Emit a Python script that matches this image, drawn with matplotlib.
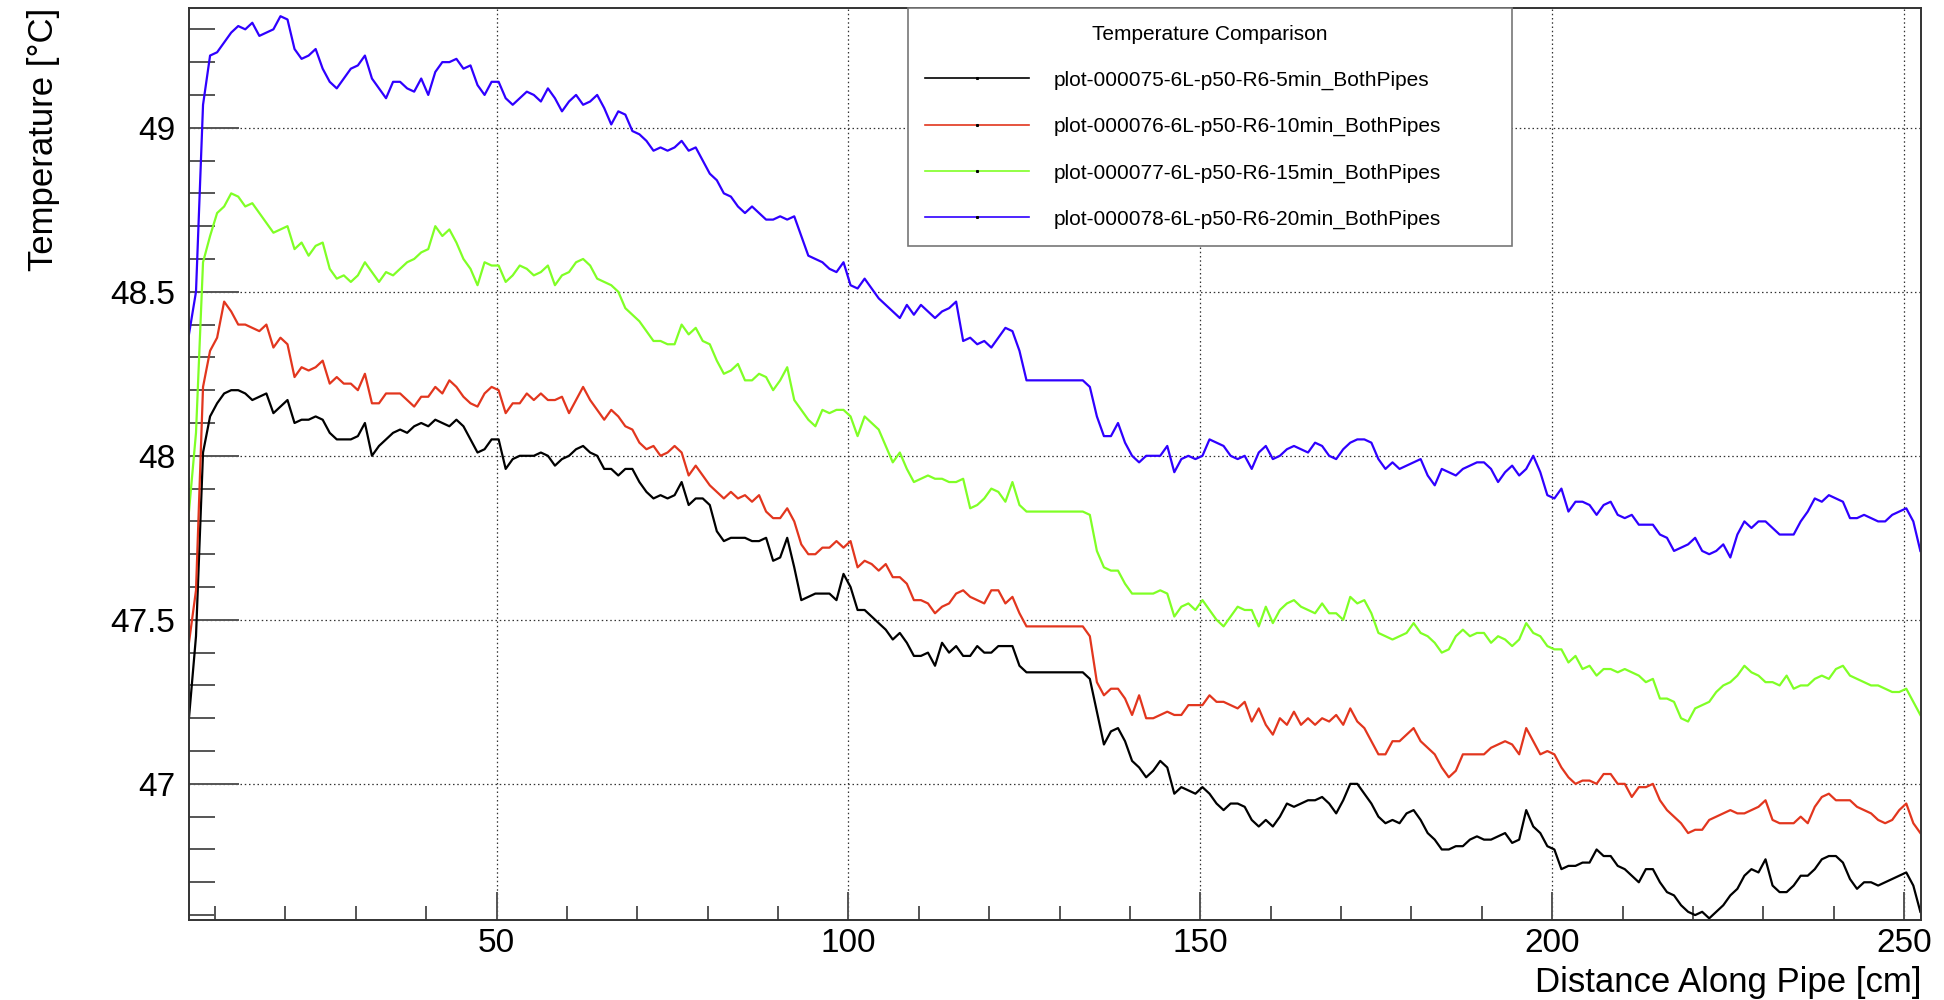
import numpy as np
import matplotlib
matplotlib.use('Agg')
import matplotlib.pyplot as plt
from matplotlib.ticker import MultipleLocator, FuncFormatter
from matplotlib.lines import Line2D

plt.rcParams['font.family'] = ['Liberation Sans', 'DejaVu Sans']

# distance grid: first sample at 6.3 cm, one sample per cm
x_start = 6.3
x_step = 1.0

t_5min = [
    47.20, 47.45, 48.01, 48.12, 48.16, 48.19, 48.20, 48.20, 48.19, 48.17, 48.18, 48.19, 48.13, 48.15, 48.17, 48.10,
    48.11, 48.11, 48.12, 48.11, 48.07, 48.05, 48.05, 48.05, 48.06, 48.10, 48.00, 48.03, 48.05, 48.07, 48.08, 48.07,
    48.09, 48.10, 48.09, 48.11, 48.10,
    48.09, 48.11, 48.09, 48.05, 48.01, 48.02, 48.05, 48.05, 47.96, 47.99, 48.00, 48.00, 48.00, 48.01, 48.00, 47.97,
    47.99, 48.00, 48.02, 48.03, 48.01, 48.00, 47.96, 47.96, 47.94, 47.96, 47.96, 47.92, 47.89, 47.87, 47.88, 47.87,
    47.88, 47.92, 47.85,
    47.87, 47.87, 47.85, 47.77, 47.74, 47.75, 47.75, 47.75, 47.74, 47.74, 47.75, 47.68, 47.69, 47.75, 47.66, 47.56,
    47.57, 47.58, 47.58, 47.58, 47.56, 47.64, 47.60, 47.53, 47.53, 47.51, 47.49, 47.47, 47.44, 47.46, 47.43, 47.39,
    47.39, 47.40, 47.36, 47.43,
    47.40, 47.42, 47.39, 47.39, 47.42, 47.40, 47.40, 47.42, 47.42, 47.42, 47.36,
    47.34, 47.34, 47.34, 47.34, 47.34, 47.34, 47.34, 47.34, 47.34,
    47.32, 47.22, 47.12, 47.16, 47.17, 47.13, 47.07, 47.05, 47.02, 47.04, 47.07, 47.05, 46.97, 46.99, 46.98,
    46.97, 46.99, 46.97, 46.94, 46.92, 46.94, 46.94, 46.93, 46.89, 46.87, 46.89, 46.87, 46.90, 46.94, 46.93, 46.94,
    46.95, 46.95, 46.96, 46.94, 46.91, 46.95, 47.00, 47.00, 46.97, 46.94, 46.90, 46.88, 46.89, 46.88, 46.91, 46.92,
    46.89, 46.85, 46.83, 46.80,
    46.80, 46.81, 46.81, 46.83, 46.84, 46.83, 46.83, 46.84, 46.85, 46.82, 46.83, 46.92, 46.87, 46.85, 46.81, 46.80,
    46.74, 46.75, 46.75, 46.76, 46.76, 46.80, 46.78, 46.78, 46.75, 46.74, 46.72, 46.70, 46.74, 46.74, 46.70, 46.67,
    46.66, 46.63, 46.61,
    46.60, 46.61, 46.59, 46.61, 46.63, 46.66, 46.68, 46.72, 46.74, 46.73, 46.77, 46.69, 46.67, 46.67, 46.69, 46.72,
    46.72, 46.74, 46.77, 46.78, 46.78, 46.76, 46.71, 46.68, 46.70, 46.70, 46.69, 46.70, 46.71, 46.72, 46.73, 46.69,
    46.61,
]

t_10min = [
    47.43, 47.59, 48.21, 48.32, 48.36, 48.47, 48.44, 48.40, 48.40, 48.39, 48.38, 48.40, 48.33, 48.36, 48.34, 48.24,
    48.27, 48.26, 48.27, 48.29, 48.22, 48.24, 48.22, 48.22, 48.20, 48.25, 48.16, 48.16, 48.19, 48.19, 48.19, 48.17,
    48.15, 48.18, 48.18, 48.21, 48.19,
    48.23, 48.21, 48.18, 48.16, 48.15, 48.19, 48.21, 48.20, 48.13, 48.16, 48.16, 48.19, 48.17, 48.19, 48.17, 48.17,
    48.18, 48.13, 48.17, 48.21, 48.17, 48.14, 48.11, 48.14, 48.12, 48.09, 48.08, 48.04, 48.02, 48.03, 48.00, 48.01,
    48.03, 48.01, 47.94,
    47.97, 47.94, 47.91, 47.89, 47.87, 47.89, 47.87, 47.88, 47.86, 47.88, 47.83, 47.81, 47.81, 47.84, 47.80, 47.73,
    47.70, 47.70, 47.72, 47.72, 47.74, 47.72, 47.74, 47.66, 47.68, 47.67, 47.65, 47.67, 47.63, 47.63, 47.61, 47.56,
    47.56, 47.55, 47.52, 47.54,
    47.55, 47.58, 47.59, 47.57, 47.56, 47.55, 47.59, 47.59, 47.55, 47.57, 47.52,
    47.48, 47.48, 47.48, 47.48, 47.48, 47.48, 47.48, 47.48, 47.48,
    47.45, 47.31, 47.27, 47.29, 47.29, 47.26, 47.21, 47.27, 47.20, 47.20, 47.21, 47.22, 47.21, 47.21, 47.24,
    47.24, 47.24, 47.27, 47.25, 47.25, 47.24, 47.23, 47.25, 47.19, 47.23, 47.18, 47.15, 47.20, 47.18, 47.22, 47.18,
    47.20, 47.18, 47.20, 47.19, 47.21, 47.18, 47.23, 47.19, 47.17, 47.13, 47.09, 47.09, 47.13, 47.13, 47.15, 47.17,
    47.13, 47.11, 47.09, 47.05,
    47.02, 47.04, 47.09, 47.09, 47.09, 47.09, 47.11, 47.12, 47.13, 47.12, 47.09, 47.17, 47.13, 47.09, 47.10, 47.09,
    47.05, 47.02, 47.00, 47.01, 47.01, 47.00, 47.03, 47.03, 47.00, 47.00, 46.96, 46.99, 46.99, 47.00, 46.95, 46.92,
    46.90, 46.88, 46.85,
    46.86, 46.86, 46.89, 46.90, 46.91, 46.92, 46.91, 46.91, 46.92, 46.93, 46.95, 46.89, 46.88, 46.88, 46.88, 46.90,
    46.88, 46.93, 46.96, 46.97, 46.95, 46.95, 46.95, 46.93, 46.92, 46.91, 46.89, 46.88, 46.89, 46.92, 46.94, 46.88,
    46.85,
]

t_15min = [
    47.83, 48.07, 48.59, 48.67, 48.74, 48.76, 48.80, 48.79, 48.76, 48.77, 48.74, 48.71, 48.68, 48.69, 48.70, 48.63,
    48.65, 48.61, 48.64, 48.65, 48.57, 48.54, 48.55, 48.53, 48.55, 48.59, 48.56, 48.53, 48.56, 48.55, 48.57, 48.59,
    48.60, 48.62, 48.63, 48.70, 48.67,
    48.69, 48.65, 48.60, 48.57, 48.52, 48.59, 48.58, 48.58, 48.53, 48.55, 48.58, 48.57, 48.55, 48.56, 48.58, 48.52,
    48.55, 48.56, 48.59, 48.60, 48.58, 48.54, 48.53, 48.52, 48.50, 48.45, 48.43, 48.41, 48.38, 48.35, 48.35, 48.34,
    48.34, 48.40, 48.37,
    48.39, 48.35, 48.34, 48.29, 48.25, 48.26, 48.28, 48.23, 48.23, 48.25, 48.24, 48.20, 48.23, 48.27, 48.17, 48.14,
    48.11, 48.09, 48.14, 48.13, 48.14, 48.14, 48.12, 48.06, 48.12, 48.10, 48.08, 48.03, 47.98, 48.01, 47.96, 47.92,
    47.93, 47.94, 47.93, 47.93,
    47.92, 47.92, 47.93, 47.84, 47.85, 47.87, 47.90, 47.89, 47.86, 47.92, 47.85,
    47.83, 47.83, 47.83, 47.83, 47.83, 47.83, 47.83, 47.83, 47.83,
    47.82, 47.71, 47.66, 47.65, 47.65, 47.61, 47.58, 47.58, 47.58, 47.58, 47.59, 47.58, 47.51, 47.54, 47.55,
    47.53, 47.56, 47.53, 47.50, 47.48, 47.51, 47.54, 47.53, 47.53, 47.48, 47.54, 47.49, 47.53, 47.55, 47.56, 47.54,
    47.53, 47.52, 47.55, 47.52, 47.52, 47.50, 47.57, 47.55, 47.56, 47.52, 47.46, 47.45, 47.44, 47.45, 47.46, 47.49,
    47.46, 47.45, 47.43, 47.40,
    47.41, 47.45, 47.47, 47.45, 47.46, 47.46, 47.43, 47.45, 47.44, 47.42, 47.44, 47.49, 47.46, 47.45, 47.42, 47.41,
    47.41, 47.37, 47.39, 47.35, 47.36, 47.33, 47.35, 47.35, 47.34, 47.35, 47.34, 47.33, 47.31, 47.32, 47.26, 47.26,
    47.25, 47.20, 47.19,
    47.23, 47.24, 47.25, 47.28, 47.30, 47.31, 47.33, 47.36, 47.34, 47.33, 47.31, 47.31, 47.30, 47.33, 47.29, 47.30,
    47.30, 47.32, 47.33, 47.32, 47.35, 47.36, 47.33, 47.32, 47.31, 47.30, 47.30, 47.29, 47.28, 47.28, 47.29, 47.25,
    47.21,
]

t_20min = [
    48.37, 48.50, 49.07, 49.22, 49.23, 49.26, 49.29, 49.31, 49.30, 49.32, 49.28, 49.29, 49.30, 49.34, 49.33, 49.24,
    49.21, 49.22, 49.24, 49.18, 49.14, 49.12, 49.15, 49.18, 49.19, 49.22, 49.15, 49.12, 49.09, 49.14, 49.14, 49.12,
    49.11, 49.15, 49.10, 49.17, 49.20,
    49.20, 49.21, 49.18, 49.19, 49.13, 49.10, 49.14, 49.14, 49.09, 49.07, 49.09, 49.11, 49.10, 49.08, 49.12, 49.09,
    49.05, 49.08, 49.10, 49.07, 49.08, 49.10, 49.06, 49.01, 49.05, 49.04, 48.99, 48.98, 48.96, 48.93, 48.94, 48.93,
    48.94, 48.96, 48.93,
    48.94, 48.90, 48.86, 48.84, 48.80, 48.79, 48.76, 48.74, 48.76, 48.74, 48.72, 48.72, 48.73, 48.72, 48.73, 48.67,
    48.61, 48.60, 48.59, 48.57, 48.56, 48.59, 48.52, 48.51, 48.54, 48.51, 48.48, 48.46, 48.44, 48.42, 48.46, 48.43,
    48.46, 48.44, 48.42, 48.44,
    48.45, 48.47, 48.35, 48.36, 48.34, 48.35, 48.33, 48.36, 48.39, 48.38, 48.32,
    48.23, 48.23, 48.23, 48.23, 48.23, 48.23, 48.23, 48.23, 48.23,
    48.21, 48.12, 48.06, 48.06, 48.10, 48.04, 48.00, 47.98, 48.00, 48.00, 48.00, 48.03, 47.95, 47.99, 48.00,
    47.99, 48.00, 48.05, 48.04, 48.03, 48.00, 47.99, 48.00, 47.96, 48.01, 48.03, 47.99, 48.00, 48.02, 48.03, 48.02,
    48.01, 48.04, 48.03, 48.00, 47.99, 48.02, 48.04, 48.05, 48.05, 48.04, 47.99, 47.96, 47.98, 47.96, 47.97, 47.98,
    47.99, 47.94, 47.91, 47.96,
    47.95, 47.94, 47.96, 47.97, 47.98, 47.98, 47.96, 47.92, 47.95, 47.97, 47.94, 47.96, 48.00, 47.95, 47.88, 47.87,
    47.90, 47.83, 47.86, 47.86, 47.85, 47.82, 47.85, 47.86, 47.82, 47.81, 47.82, 47.79, 47.79, 47.79, 47.76, 47.75,
    47.71, 47.72, 47.73,
    47.75, 47.71, 47.70, 47.71, 47.73, 47.69, 47.76, 47.80, 47.78, 47.80, 47.80, 47.78, 47.76, 47.76, 47.76, 47.80,
    47.83, 47.87, 47.86, 47.88, 47.87, 47.86, 47.81, 47.81, 47.82, 47.81, 47.80, 47.80, 47.82, 47.83, 47.84, 47.80,
    47.71,
]

series = [t_5min, t_10min, t_15min, t_20min]
labels = [
    'plot-000075-6L-p50-R6-5min_BothPipes',
    'plot-000076-6L-p50-R6-10min_BothPipes',
    'plot-000077-6L-p50-R6-15min_BothPipes',
    'plot-000078-6L-p50-R6-20min_BothPipes',
]
colors = ['#000000', '#e2361e', '#80ff26', '#2f00ff']

fig = plt.figure(figsize=(19.44, 10), dpi=100)
ax = fig.add_axes([0.0972, 0.08, 0.8910, 0.912])

for temps, c in zip(series, colors):
    dist = x_start + x_step * np.arange(len(temps))
    ax.plot(dist, temps, color=c, lw=1.6)

ax.set_xlim(6.3, 252.4)
ax.set_ylim(46.585, 49.365)

ax.xaxis.set_major_locator(MultipleLocator(50))
ax.xaxis.set_minor_locator(MultipleLocator(10))
ax.yaxis.set_major_locator(MultipleLocator(0.5))
ax.yaxis.set_minor_locator(MultipleLocator(0.1))
ax.yaxis.set_major_formatter(FuncFormatter(lambda v, p: '%g' % round(v, 2)))

ax.tick_params(which='both', direction='in', top=False, right=False,
               labelsize=24, color='#555555', width=1.4)
ax.tick_params(axis='y', which='major', length=36, pad=10)
ax.tick_params(axis='y', which='minor', length=19)
ax.tick_params(axis='x', which='major', length=20, pad=6)
ax.tick_params(axis='x', which='minor', length=10)

ax.grid(True, which='major', ls=(0, (1.2, 2.2)), lw=0.9, color='#333333')
for sp in ax.spines.values():
    sp.set_linewidth(1.4)
    sp.set_color('#333333')

ax.set_xlabel('Distance Along Pipe [cm]', fontsize=25, loc='right', labelpad=5)
ax.set_ylabel('Temperature [°C]', fontsize=25, loc='top', labelpad=36)

handles = [Line2D([], [], color=c, lw=1.2, marker='s', ms=1.2, mfc='k', mec='k') for c in colors]
leg = ax.legend(handles, labels, title='Temperature Comparison', loc='upper left',
                bbox_to_anchor=(0.4151, 0.0, 0.3487, 1.0), mode='expand', borderaxespad=0,
                fontsize=15, title_fontsize=15, handlelength=5.0, handletextpad=1.2,
                labelspacing=1.3, borderpad=0.8, fancybox=False, framealpha=1,
                edgecolor='#777777', numpoints=1)
leg.get_frame().set_linewidth(1.2)

fig.savefig('out.png', dpi=100)
